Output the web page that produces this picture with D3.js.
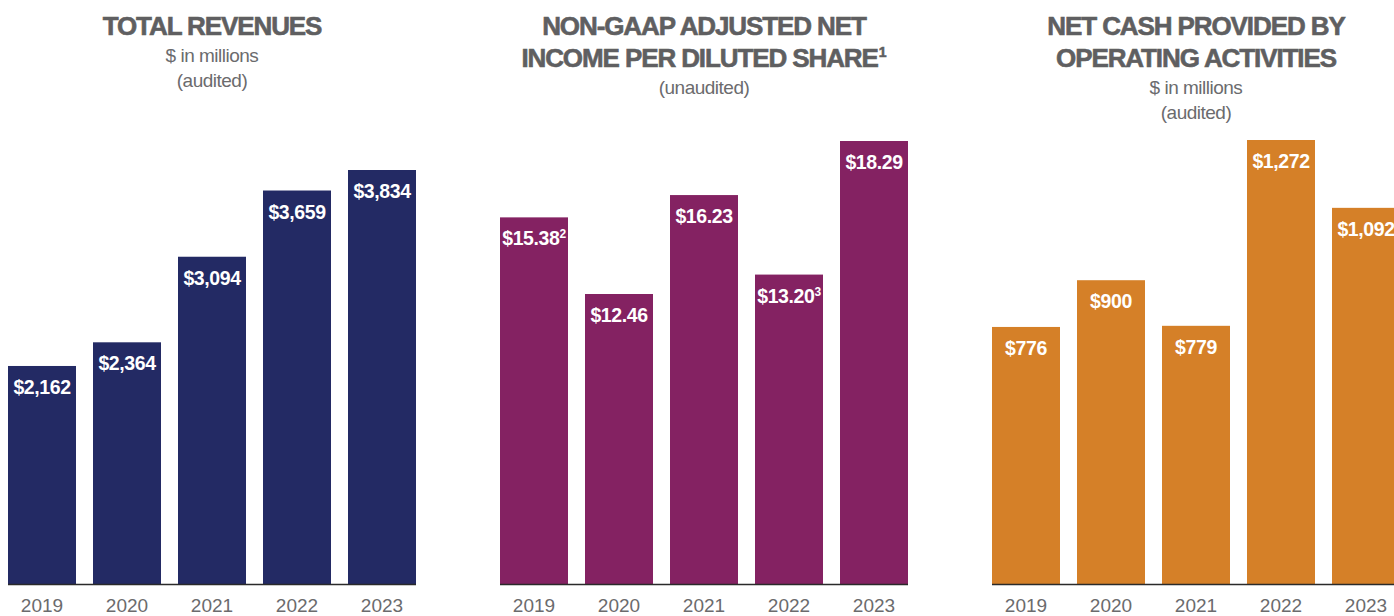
<!DOCTYPE html>
<html>
<head>
<meta charset="utf-8">
<script src="https://d3js.org/d3.v7.min.js"></script>
<style>
	body { margin: 0; background: #ffffff; }
	svg { display: block; }
</style>
</head>
<body>
<script>
// chart values
let years = ["2019", "2020", "2021", "2022", "2023"];
let revenues = [2162, 2364, 3094, 3659, 3834];
let epsValues = [15.38, 12.46, 16.23, 13.20, 18.29];
let epsNotes = ["2", "", "", "3", ""];
let cashValues = [776, 900, 779, 1272, 1092];

let revenueTitle = ["TOTAL REVENUES"];
let revenueSub = ["$ in millions", "(audited)"];
let epsTitle = ["NON-GAAP ADJUSTED NET", "INCOME PER DILUTED SHARE"];
let epsSub = ["(unaudited)"];
let cashTitle = ["NET CASH PROVIDED BY", "OPERATING ACTIVITIES"];
let cashSub = ["$ in millions", "(audited)"];

let canvasW = 1394;
let canvasH = 616;
let baseY = 584;
let panelW = 408;
let grey = "#6b6b6d";
let titleGrey = "#5f5f61";
let font = "'Liberation Sans', Arial, sans-serif";

let svg = d3.select("body").append("svg")
	.attr("width", canvasW)
	.attr("height", canvasH)
	.style("background-color", "#ffffff");

function drawPanel(opts) {
	let x0 = opts.x0;
	let g = svg.append("g");

	let x = d3.scaleBand()
		.domain(years)
		.range([x0, x0 + panelW])
		.paddingInner(0.2)
		.paddingOuter(0);

	let y = d3.scaleLinear()
		.domain(opts.domain)
		.range([baseY, opts.top]);

	let rows = years.map((yr, i) => ({ year: yr, value: opts.values[i], note: opts.notes ? opts.notes[i] : "" }));

	// title lines
	let cx = x0 + panelW / 2;
	opts.title.forEach((t, i) => {
		let tt = g.append("text")
			.attr("x", cx)
			.attr("y", 35 + i * 32)
			.attr("text-anchor", "middle")
			.attr("font-family", font)
			.attr("font-weight", "bold")
			.attr("font-size", "26px")
			.attr("letter-spacing", "-1.1px")
			.attr("fill", titleGrey)
			.attr("stroke", titleGrey)
			.attr("stroke-width", 0.6)
			.text(t);
		if (opts.titleNote && i == opts.title.length - 1) {
			tt.append("tspan")
				.attr("font-size", "14px")
				.attr("dy", -10)
				.attr("dx", 1)
				.attr("letter-spacing", "0px")
				.text(opts.titleNote);
		}
	});

	let subY = 35 + (opts.title.length - 1) * 32 + 27;
	opts.sub.forEach((t, i) => {
		g.append("text")
			.attr("x", cx)
			.attr("y", subY + i * 25)
			.attr("text-anchor", "middle")
			.attr("font-family", font)
			.attr("font-size", "19px")
			.attr("letter-spacing", "-0.5px")
			.attr("fill", grey)
			.text(t);
	});

	g.selectAll(".bar")
		.data(rows)
		.enter()
		.append("rect")
			.attr("class", "bar")
			.attr("x", d => x(d.year))
			.attr("y", d => y(d.value))
			.attr("width", x.bandwidth())
			.attr("height", d => baseY - y(d.value))
			.attr("fill", opts.color);

	g.append("line")
		.attr("x1", x0)
		.attr("x2", x0 + panelW)
		.attr("y1", baseY + 0.5)
		.attr("y2", baseY + 0.5)
		.attr("stroke", "#2a2a2a")
		.attr("stroke-width", 1.5);

	let labels = g.selectAll(".val")
		.data(rows)
		.enter()
		.append("text")
			.attr("class", "val")
			.attr("x", d => x(d.year) + x.bandwidth() / 2)
			.attr("y", d => y(d.value) + 28)
			.attr("text-anchor", "middle")
			.attr("font-family", font)
			.attr("font-weight", "bold")
			.attr("font-size", "19.5px")
			.attr("letter-spacing", "-0.4px")
			.attr("fill", "#ffffff")
			.text(d => opts.fmt(d.value));

	labels.filter(d => d.note != "")
		.append("tspan")
			.attr("font-size", "12px")
			.attr("dy", -7)
			.text(d => d.note);

	g.selectAll(".yr")
		.data(rows)
		.enter()
		.append("text")
			.attr("class", "yr")
			.attr("x", d => x(d.year) + x.bandwidth() / 2)
			.attr("y", 612)
			.attr("text-anchor", "middle")
			.attr("font-family", font)
			.attr("font-size", "19px")
			.attr("fill", grey)
			.text(d => d.year);
}

let money = d3.format(",");

drawPanel({
	x0: 8, values: revenues, domain: [302, 3834], top: 170,
	color: "#232a64", title: revenueTitle, sub: revenueSub,
	fmt: v => "$" + money(v)
});

drawPanel({
	x0: 500, values: epsValues, notes: epsNotes, domain: [1.41, 18.29], top: 141,
	color: "#842262", title: epsTitle, titleNote: "1", sub: epsSub,
	fmt: v => "$" + v.toFixed(2)
});

drawPanel({
	x0: 992, values: cashValues, domain: [94, 1272], top: 140,
	color: "#d58028", title: cashTitle, sub: cashSub,
	fmt: v => "$" + money(v)
});
</script>
</body>
</html>
